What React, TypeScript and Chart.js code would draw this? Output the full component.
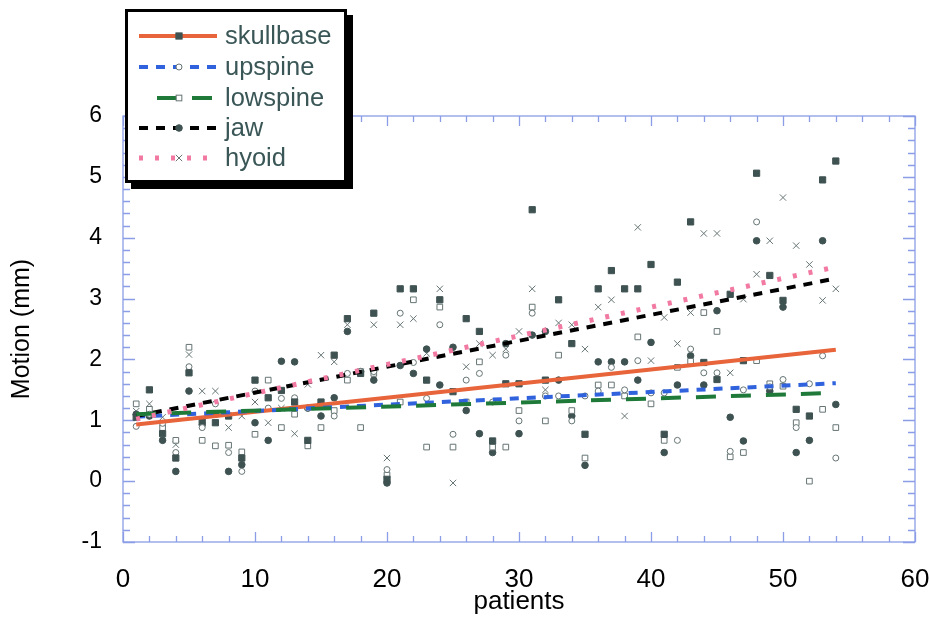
import React, { useEffect, useRef } from "react";
import { Chart, registerables } from "chart.js";

Chart.register(...registerables);

// ---------- data ----------
const patients = [
  1, 2, 3, 4, 5, 6, 7, 8, 9, 10, 11, 12, 13, 14, 15, 16, 17, 18, 19, 20, 21, 22, 23, 24, 25, 26, 27,
  28, 29, 30, 31, 32, 33, 34, 35, 36, 37, 38, 39, 40, 41, 42, 43, 44, 45, 46, 47, 48, 49, 50, 51, 52, 53, 54,
];

const skullbase = [
  1.05, 1.5, 0.78, 0.38, 1.78, 1.0, 0.96, 1.07, 0.38, 1.66, 1.37, 1.49, 1.3, 0.67, 1.3, 2.07, 2.67, 1.77,
  2.76, 0.03, 3.16, 3.16, 1.66, 2.98, 1.47, 2.67, 2.46, 0.66, 1.6, 1.6, 4.46, 1.66, 2.98, 2.26, 0.77, 3.16,
  3.46, 3.16, 3.16, 3.56, 0.77, 3.27, 4.26, 1.95, 1.67, 3.07, 1.98, 5.06, 3.38, 2.97, 1.18, 1.07, 4.95, 5.26,
];

const upspine = [
  0.9, 1.1, 0.95, 0.47, 1.88, 0.88, 1.27, 0.47, 0.16, 1.48, 1.2, 1.36, 1.37, 1.2, 1.27, 1.07, 1.77, 1.8,
  1.8, 0.19, 2.76, 1.95, 1.36, 2.57, 0.77, 1.66, 1.77, 1.3, 2.07, 0.99, 2.76, 1.4, 1.4, 0.99, 1.4, 1.48,
  1.87, 1.5, 1.98, 1.45, 1.45, 0.67, 2.17, 1.78, 1.78, 0.49, 1.5, 4.26, 1.55, 1.67, 0.88, 1.6, 2.06, 0.38,
];

const lowspine = [
  1.27, 1.18, 0.88, 0.67, 2.2, 0.67, 0.58, 0.59, 0.48, 0.77, 1.66, 0.88, 1.1, 0.58, 0.88, 1.16, 1.66, 0.88,
  1.77, 0.1, 1.3, 2.98, 0.56, 2.86, 0.56, 1.3, 1.96, 0.56, 0.56, 1.16, 2.86, 0.99, 2.07, 1.16, 0.38, 1.58,
  1.58, 1.4, 2.37, 1.27, 0.67, 1.87, 1.97, 2.77, 2.46, 0.4, 0.47, 1.98, 1.6, 1.56, 0.96, 0.0, 1.18, 0.88,
];

const jaw = [
  1.1, 1.07, 0.67, 0.16, 1.48, 0.93, 1.1, 0.16, 0.27, 0.96, 0.67, 1.97, 1.96, 1.2, 1.07, 1.37, 2.46, 1.8,
  1.66, -0.03, 1.9, 1.77, 2.17, 1.58, 2.2, 1.16, 0.78, 0.47, 2.26, 0.78, 2.4, 2.46, 1.66, 1.07, 0.26, 1.96,
  1.96, 1.96, 1.66, 2.28, 0.47, 1.58, 2.06, 1.58, 2.8, 1.05, 0.66, 3.95, 1.48, 2.86, 0.47, 0.67, 3.95, 1.26,
];

const hyoid = [
  1.15, 1.27, 1.05, 0.6, 2.08, 1.48, 1.48, 0.88, 1.07, 1.3, 0.96, 1.2, 0.78, 1.59, 2.07, 1.96, 2.57, 1.8,
  2.57, 0.38, 2.57, 2.67, 2.1, 3.16, -0.03, 1.88, 2.26, 2.07, 2.17, 2.46, 3.16, 1.5, 2.6, 2.57, 2.17, 2.86,
  2.98, 1.07, 4.17, 1.98, 2.69, 2.26, 2.77, 4.07, 4.07, 1.78, 2.99, 3.4, 3.95, 4.66, 3.87, 3.56, 2.97, 3.16,
];

// fitted trend lines (end points)
const trendX = [1, 54];
const skullbaseTrend = [0.93, 2.16];
const upspineTrend = [1.06, 1.61];
const lowspineTrend = [1.1, 1.45];
const jawTrend = [1.07, 3.33];
const hyoidTrend = [1.02, 3.52];

const seriesNames = ["skullbase", "upspine", "lowspine", "jaw", "hyoid"];

const xMin = 0;
const xMax = 60;
const yMin = -1;
const yMax = 6;

// ---------- styles ----------
const FONT = "'Liberation Sans', Arial, Helvetica, sans-serif";
const DARK = "#3f5252";
const OPEN = "#667474";
const FRAME = "#8a9de6";

type Sty = {
  color: string;
  width: number;
  dash: number[];
  cap: CanvasLineCap;
  marker: string;
  mFill: string;
  mStroke: string;
  mRadius: number;
};

const styles: Sty[] = [
  { color: "#e8643a", width: 4, dash: [], cap: "butt", marker: "rect", mFill: DARK, mStroke: DARK, mRadius: 4.4 },
  { color: "#2f62dc", width: 4, dash: [9, 8], cap: "butt", marker: "circle", mFill: "#ffffff", mStroke: OPEN, mRadius: 3 },
  { color: "#1f7a3a", width: 4, dash: [20, 15], cap: "butt", marker: "rect", mFill: "#ffffff", mStroke: OPEN, mRadius: 4 },
  { color: "#000000", width: 4, dash: [9, 8], cap: "butt", marker: "circle", mFill: DARK, mStroke: DARK, mRadius: 3.3 },
  { color: "#f27aa2", width: 5, dash: [4, 12], cap: "butt", marker: "crossRot", mFill: OPEN, mStroke: OPEN, mRadius: 4.5 },
];

function pts(ys: number[]) {
  return patients.map((p, i) => ({ x: p, y: ys[i] }));
}
function tpts(ys: number[]) {
  return trendX.map((x, i) => ({ x, y: ys[i] }));
}

// frame + inner ticks on all four sides
const framePlugin = {
  id: "frameTicks",
  beforeDatasetsDraw(chart: any) {
    const { ctx, chartArea } = chart;
    const xs = chart.scales.x;
    const ys = chart.scales.y;
    const { left, right, top, bottom } = chartArea;
    ctx.save();
    ctx.strokeStyle = FRAME;
    ctx.lineWidth = 1.3;
    ctx.strokeRect(left, top, right - left, bottom - top);
    ctx.beginPath();
    for (let v = xMin; v <= xMax + 1e-6; v += 2) {
      const px = Math.round(xs.getPixelForValue(v)) + 0.5;
      const major = Math.abs(v % 10) < 1e-6;
      const len = major ? 10 : 6;
      ctx.moveTo(px, bottom);
      ctx.lineTo(px, bottom - len);
      ctx.moveTo(px, top);
      ctx.lineTo(px, top + len);
    }
    for (let k = 0; k <= (yMax - yMin) * 5; k++) {
      const v = yMin + k * 0.2;
      const py = Math.round(ys.getPixelForValue(v)) + 0.5;
      const major = k % 5 === 0;
      const len = major ? 12 : 7;
      ctx.moveTo(left, py);
      ctx.lineTo(left + len, py);
      ctx.moveTo(right, py);
      ctx.lineTo(right - len, py);
    }
    ctx.stroke();
    ctx.restore();
  },
};

function drawMarker(ctx: CanvasRenderingContext2D, s: Sty, x: number, y: number) {
  ctx.save();
  ctx.setLineDash([]);
  ctx.lineWidth = 1;
  ctx.fillStyle = s.mFill;
  ctx.strokeStyle = s.mStroke;
  const r = s.mRadius;
  if (s.marker === "rect") {
    const h = r * Math.SQRT1_2;
    ctx.fillRect(x - h, y - h, 2 * h, 2 * h);
    ctx.strokeRect(x - h, y - h, 2 * h, 2 * h);
  } else if (s.marker === "circle") {
    ctx.beginPath();
    ctx.arc(x, y, r, 0, Math.PI * 2);
    ctx.fill();
    ctx.stroke();
  } else {
    const h = r * Math.SQRT1_2;
    ctx.beginPath();
    ctx.moveTo(x - h, y - h);
    ctx.lineTo(x + h, y + h);
    ctx.moveTo(x + h, y - h);
    ctx.lineTo(x - h, y + h);
    ctx.stroke();
  }
  ctx.restore();
}

const legendPlugin = {
  id: "boxLegend",
  afterDraw(chart: any) {
    const ctx: CanvasRenderingContext2D = chart.ctx;
    const bx = 125;
    const by = 9;
    const bw = 222;
    const bh = 174;
    ctx.save();
    ctx.fillStyle = "#000";
    ctx.fillRect(bx + 6, by + 6, bw, bh);
    ctx.fillStyle = "#fff";
    ctx.fillRect(bx, by, bw, bh);
    ctx.strokeStyle = "#000";
    ctx.lineWidth = 3;
    ctx.strokeRect(bx + 1.5, by + 1.5, bw - 3, bh - 3);

    const rows = [36, 67, 98, 128, 158];
    ctx.font = `25.5px ${FONT}`;
    ctx.textBaseline = "middle";
    ctx.textAlign = "left";
    seriesNames.forEach((name, i) => {
      const s = styles[i];
      const y = rows[i];
      const x0 = name === "lowspine" ? 157 : 139;
      const x1 = 217;
      ctx.save();
      ctx.strokeStyle = s.color;
      ctx.lineWidth = s.width;
      ctx.lineCap = s.cap;
      ctx.setLineDash(s.dash);
      ctx.beginPath();
      ctx.moveTo(x0, y);
      ctx.lineTo(x1, y);
      ctx.stroke();
      ctx.restore();
      drawMarker(ctx, s, 179, y);
      ctx.fillStyle = "#3a5656";
      ctx.fillText(name, 225, y + 1);
    });
    ctx.restore();
  },
};

export default function App() {
  const ref = useRef<HTMLCanvasElement | null>(null);

  useEffect(() => {
    if (!ref.current) return;
    const seriesData = [skullbase, upspine, lowspine, jaw, hyoid];
    const trendData = [skullbaseTrend, upspineTrend, lowspineTrend, jawTrend, hyoidTrend];

    const scatterSets = seriesNames.map((name, i) => ({
      type: "scatter" as const,
      label: name,
      data: pts(seriesData[i]),
      pointStyle: styles[i].marker as any,
      pointRadius: styles[i].mRadius,
      pointBackgroundColor: styles[i].mFill,
      pointBorderColor: styles[i].mStroke,
      pointBorderWidth: 1,
      showLine: false,
      order: 2,
    }));

    const lineOrder = [3, 2, 1, 1, 0];
    const lineSets = seriesNames.map((name, i) => ({
      type: "line" as const,
      label: name + " fit",
      data: tpts(trendData[i]),
      borderColor: styles[i].color,
      borderWidth: styles[i].width,
      borderDash: styles[i].dash,
      borderCapStyle: styles[i].cap,
      pointRadius: 0,
      fill: false,
      tension: 0,
      order: lineOrder[i] * 0.1,
    }));

    const chart = new Chart(ref.current, {
      type: "scatter",
      data: { datasets: [...lineSets, ...scatterSets] as any },
      options: {
        responsive: false,
        animation: false,
        devicePixelRatio: 1,
        layout: { padding: { top: 116, right: 14, left: 0, bottom: 0 } },
        plugins: { legend: { display: false }, tooltip: { enabled: false } },
        scales: {
          x: {
            type: "linear",
            min: xMin,
            max: xMax,
            ticks: {
              stepSize: 10,
              color: "#000",
              font: { family: FONT, size: 26 },
              padding: 22,
            },
            grid: { display: false, drawTicks: false },
            border: { display: false },
            title: {
              display: true,
              text: "patients",
              color: "#000",
              font: { family: FONT, size: 26 },
              padding: { top: 0, bottom: 0 },
            },
            afterFit: (s: any) => {
              s.height = 75;
              s.paddingLeft = 0;
              s.paddingRight = 0;
            },
          },
          y: {
            type: "linear",
            min: yMin,
            max: yMax,
            ticks: {
              stepSize: 1,
              color: "#000",
              font: { family: FONT, size: 23 },
              padding: 21,
            },
            grid: { display: false, drawTicks: false },
            border: { display: false },
            title: {
              display: true,
              text: "Motion (mm)",
              color: "#000",
              font: { family: FONT, size: 25 },
              padding: { top: 7, bottom: 0 },
            },
            afterFit: (s: any) => {
              s.width = 123;
            },
          },
        },
      },
      plugins: [framePlugin, legendPlugin],
    });
    return () => chart.destroy();
  }, []);

  return (
    <div style={{ position: "fixed", left: 0, top: 0, width: 929, height: 617, background: "#fff" }}>
      <canvas ref={ref} width={929} height={617} style={{ display: "block" }} />
    </div>
  );
}
